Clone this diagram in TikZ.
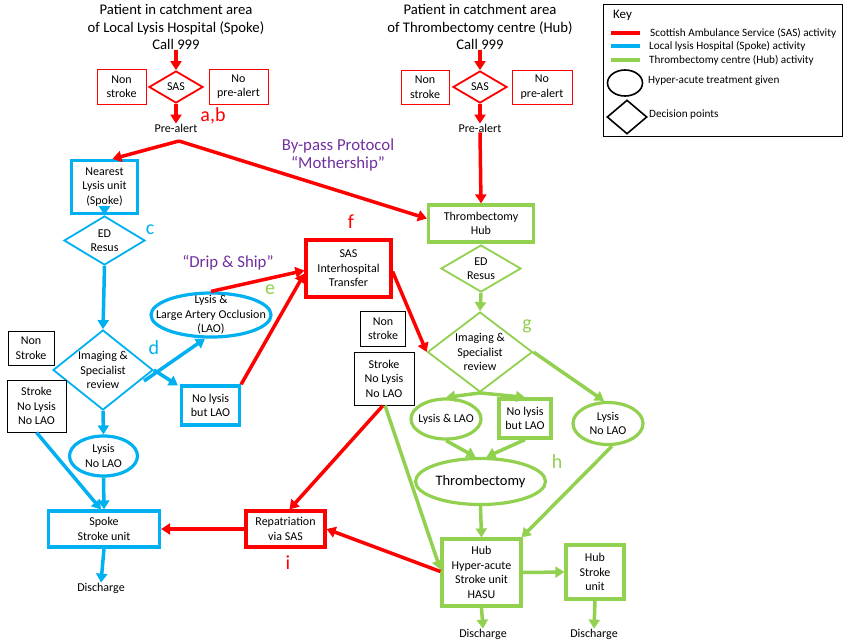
\documentclass[tikz,border=0pt]{standalone}
\usepackage{fontspec}
\setmainfont{Carlito}
\usetikzlibrary{arrows.meta,shapes.geometric}
\definecolor{sasred}{HTML}{FF0000}
\definecolor{spokeblue}{HTML}{00B0F0}
\definecolor{hubgreen}{HTML}{92D050}
\definecolor{purp}{HTML}{7030A0}
\begin{document}
\begin{tikzpicture}[x=1pt,y=-1pt,
  txt/.style={font=\fontsize{12}{14.5}\selectfont, align=center, inner sep=0},
  ttl/.style={font=\fontsize{14.7}{17.5}\selectfont, align=center, inner sep=0},
  lbl/.style={font=\fontsize{20}{20}\selectfont, inner sep=0},
  purplbl/.style={font=\fontsize{16.8}{18}\selectfont, align=center, inner sep=0, text=purp},
  keytxt/.style={font=\fontsize{11.2}{12}\selectfont, anchor=west, inner sep=0},
  thkbox/.style={draw, rectangle, line width=3.2pt, inner sep=0},
  thnbox/.style={draw, rectangle, line width=1pt, inner sep=0},
  dmd/.style={draw, diamond, line width=1.8pt, inner sep=0},
  ell/.style={draw, ellipse, line width=3.2pt, inner sep=0},
  arr/.style={line width=3.5pt, -{Triangle[length=9pt,width=11pt]}},
  ln/.style={line width=3.5pt}
]
\useasboundingbox (0,0) rectangle (850,643);

% ---------- Titles ----------
\node[ttl] (title1) at (176,27) {Patient in catchment area\\of Local Lysis Hospital (Spoke)\\Call 999};
\node[ttl] (title2) at (480,27) {Patient in catchment area\\of Thrombectomy centre (Hub)\\Call 999};

% ---------- SAS left ----------
\node[dmd, sasred, minimum width=54pt, minimum height=32pt] (sasL) at (176,87) {};
\node[txt] (sasLt) at (sasL) {SAS};
\node[thnbox, sasred, minimum width=49pt, minimum height=35pt] (nsL) at (121.5,86.5) {};
\node[txt] (nsLt) at (nsL) {Non\\stroke};
\node[thnbox, sasred, minimum width=59pt, minimum height=35pt] (npL) at (238.5,86.5) {};
\node[txt] (npLt) at (npL) {No\\pre-alert};
\node[txt] (paL) at (176,128) {Pre-alert};
\node[lbl, text=sasred] (lab) at (213,116) {a,b};
\coordinate (apexL) at (179,141);

% ---------- SAS right ----------
\node[dmd, sasred, minimum width=54pt, minimum height=32pt] (sasR) at (480,87) {};
\node[txt] (sasRt) at (sasR) {SAS};
\node[thnbox, sasred, minimum width=48pt, minimum height=34pt] (nsR) at (425,87) {};
\node[txt] (nsRt) at (nsR) {Non\\stroke};
\node[thnbox, sasred, minimum width=60pt, minimum height=34pt] (npR) at (542,87) {};
\node[txt] (npRt) at (npR) {No\\pre-alert};
\node[txt] (paR) at (480,128) {Pre-alert};

\node[purplbl] (bypass) at (338,155) {By-pass Protocol\\“Mothership”};

% ---------- Spoke side ----------
\node[thkbox, spokeblue, minimum width=66pt, minimum height=53pt] (nearest) at (104.5,187) {};
\node[txt] (nearestt) at (nearest) {Nearest\\Lysis unit\\(Spoke)};
\node[dmd, spokeblue, minimum width=81pt, minimum height=49pt] (edL) at (104.5,240.5) {};
\node[txt] (edLt) at (edL) {ED\\Resus};
\node[lbl, text=spokeblue] (labc) at (150,230) {c};
\node[dmd, spokeblue, minimum width=100pt, minimum height=80pt] (imgL) at (103,370) {};
\node[txt] (imgLt) at (imgL) {Imaging \&\\Specialist\\review};
\node[lbl, text=spokeblue] (labd) at (154,348) {d};
\node[thnbox, black, minimum width=46pt, minimum height=34pt] (nsBL) at (31,348) {};
\node[txt] (nsBLt) at (nsBL) {Non\\Stroke};
\node[thnbox, black, minimum width=59pt, minimum height=52pt] (snlL) at (36.5,406) {};
\node[txt] (snlLt) at (snlL) {Stroke\\No Lysis\\No LAO};
\node[ell, spokeblue, minimum width=120pt, minimum height=44pt] (lysLAO) at (211,315) {};
\node[txt] (lysLAOt) at (lysLAO) {Lysis \&\\Large Artery Occlusion\\(LAO)};
\node[lbl, text=hubgreen] (labe) at (270,290) {e};
\node[purplbl] (drip) at (228,263) {“Drip \& Ship”};
\node[thkbox, spokeblue, minimum width=58pt, minimum height=39pt] (nolysL) at (210.5,405.5) {};
\node[txt] (nolysLt) at (nolysL) {No lysis\\but LAO};
\node[ell, spokeblue, minimum width=68pt, minimum height=40pt] (lysNoL) at (103.5,456) {};
\node[txt] (lysNoLt) at (lysNoL) {Lysis\\No LAO};
\node[thkbox, spokeblue, minimum width=111pt, minimum height=36pt] (spokeSU) at (104,529) {};
\node[txt] (spokeSUt) at (spokeSU) {Spoke\\Stroke unit};
\node[txt] (dischL) at (101,588) {Discharge};

% ---------- SAS middle ----------
\node[thkbox, sasred, minimum width=79pt, minimum height=36pt] (repat) at (285.5,529) {};
\node[txt] (repatt) at (repat) {Repatriation\\via SAS};
\node[lbl, text=sasred] (labi) at (288,563) {i};
\node[thkbox, sasred, minimum width=85pt, minimum height=57pt] (sasIT) at (348.5,268.5) {};
\node[txt] (sasITt) at (sasIT) {SAS\\Interhospital\\Transfer};
\node[lbl, text=sasred] (labf) at (351,222) {f};

% ---------- Hub side ----------
\node[thkbox, hubgreen, minimum width=105pt, minimum height=37pt] (hub) at (481,223.5) {};
\node[txt] (hubt) at (hub) {Thrombectomy\\Hub};
\node[dmd, hubgreen, minimum width=80pt, minimum height=47pt] (edR) at (481,268.5) {};
\node[txt] (edRt) at (edR) {ED\\Resus};
\node[dmd, hubgreen, minimum width=105pt, minimum height=80pt] (imgR) at (480,352) {};
\node[txt] (imgRt) at (imgR) {Imaging \&\\Specialist\\review};
\node[lbl, text=hubgreen] (labg) at (527,326) {g};
\node[thnbox, black, minimum width=45pt, minimum height=35pt] (nsR2) at (383,328.5) {};
\node[txt] (nsR2t) at (nsR2) {Non\\stroke};
\node[thnbox, black, minimum width=60pt, minimum height=53pt] (snlR) at (384,378.5) {};
\node[txt] (snlRt) at (snlR) {Stroke\\No Lysis\\No LAO};
\node[ell, hubgreen, minimum width=70pt, minimum height=40pt] (lysLAOR) at (446,419) {};
\node[txt] (lysLAORt) at (lysLAOR) {Lysis \& LAO};
\node[thkbox, hubgreen, minimum width=52pt, minimum height=39pt] (nolysR) at (525,418.5) {};
\node[txt] (nolysRt) at (nolysR) {No lysis\\but LAO};
\node[ell, hubgreen, minimum width=70pt, minimum height=42pt] (lysNoLR) at (608,423.5) {};
\node[txt] (lysNoLRt) at (lysNoLR) {Lysis\\No LAO};
\node[ell, hubgreen, minimum width=130pt, minimum height=46pt] (thromb) at (480.5,481.5) {};
\node[txt, font=\fontsize{14.5}{16}\selectfont] (thrombt) at (thromb) {Thrombectomy};
\node[lbl, text=hubgreen] (labh) at (557,462) {h};
\node[thkbox, hubgreen, minimum width=79pt, minimum height=67pt] (hasu) at (481.5,572.5) {};
\node[txt] (hasut) at (hasu) {Hub\\Hyper-acute\\Stroke unit\\HASU};
\node[txt] (dischM) at (483,634) {Discharge};
\node[thkbox, hubgreen, minimum width=58pt, minimum height=54pt] (hubSU) at (595,572) {};
\node[txt] (hubSUt) at (hubSU) {Hub\\Stroke\\unit};
\node[txt] (dischR) at (594,634) {Discharge};

% ---------- Red connectors ----------
\draw[arr, sasred] (title1.south) -- (sasL.north);
\draw[arr, sasred] (sasL.south) -- (paL.north);
\draw[arr, sasred] (title2.south) -- (sasR.north);
\draw[arr, sasred] (sasR.south) -- (paR.north);
\draw[arr, sasred] (apexL) -- ([xshift=8pt]nearest.north);
\draw[arr, sasred] (apexL) -- ([yshift=5pt]hub.west);
\draw[arr, sasred] (paR.south) -- (hub.north);
\draw[arr, sasred] (lysLAO.north) -- ([yshift=-2pt]sasIT.west);
\draw[arr, sasred] (nolysL.north east) -- ([yshift=-5pt]sasIT.west);
\draw[arr, sasred] ([yshift=-3pt]sasIT.east) -- (imgR.west);
\draw[arr, sasred] ([xshift=-1pt]snlR.south) -- ([xshift=4pt]repat.north);
\draw[arr, sasred] ([yshift=1pt]hasu.west) -- (repat.east);
\draw[arr, sasred] (repat.west) -- (spokeSU.east);

% ---------- Blue connectors ----------
\coordinate (dA) at (144,381);
\draw[arr, spokeblue] (nearest.south) -- (edL.north);
\draw[arr, spokeblue] (edL.south) -- (imgL.north);
\draw[arr, spokeblue] (dA) -- ([xshift=-6pt]lysLAO.south);
\draw[arr, spokeblue] (imgL.east) -- ([xshift=-2pt,yshift=-1pt]nolysL.north west);
\draw[arr, spokeblue] (imgL.south) -- (lysNoL.north);
\draw[arr, spokeblue] (lysNoL.south) -- (spokeSU.north);
\draw[arr, spokeblue] (snlL.south) -- ([xshift=-3pt]spokeSU.north);
\draw[arr, spokeblue] (spokeSU.south) -- (dischL.north);

% ---------- Green connectors ----------
\draw[arr, hubgreen] (edR.south) -- (imgR.north);
\draw[arr, hubgreen] (imgR.south) -- (lysLAOR.north);
\draw[arr, hubgreen] (imgR.south) -- (nolysR.north);
\draw[arr, hubgreen] (imgR.east) -- ([xshift=-4pt]lysNoLR.north);
\draw[arr, hubgreen] (lysLAOR.south) -- ([xshift=-5pt]thromb.north);
\draw[arr, hubgreen] (nolysR.south) -- ([xshift=6pt]thromb.north);
\draw[arr, hubgreen] (thromb.south) -- (hasu.north);
\draw[arr, hubgreen] ([xshift=4pt]lysNoLR.south) -- ([xshift=-1pt]hasu.north east);
\draw[arr, hubgreen] ([xshift=1pt]snlR.south) -- ([yshift=3pt]hasu.west);
\draw[arr, hubgreen] (hasu.south) -- (dischM.north);
\draw[arr, hubgreen] (hasu.east) -- (hubSU.west);
\draw[arr, hubgreen] (hubSU.south) -- (dischR.north);

% ---------- Key ----------
\node[draw, line width=1pt, rectangle, minimum width=239pt, minimum height=132pt, inner sep=0] (keybox) at (722.5,70) {};
\node[keytxt, font=\fontsize{13}{14}\selectfont] (keyt) at (613,15) {Key};
\coordinate (k1a) at (611,33); \coordinate (k1b) at (640,33);
\coordinate (k2a) at (611,46); \coordinate (k2b) at (640,46);
\coordinate (k3a) at (611,60); \coordinate (k3b) at (640,60);
\draw[ln, sasred] (k1a) -- (k1b);
\draw[ln, spokeblue] (k2a) -- (k2b);
\draw[ln, hubgreen] (k3a) -- (k3b);
\node[keytxt] (kt1) at (650,33) {Scottish Ambulance Service (SAS) activity};
\node[keytxt] (kt2) at (649,46) {Local lysis Hospital (Spoke) activity};
\node[keytxt] (kt3) at (649,60) {Thrombectomy centre (Hub) activity};
\node[draw, ellipse, line width=1.6pt, minimum width=35pt, minimum height=26pt, inner sep=0] (kell) at (625,83) {};
\node[keytxt] (kt4) at (648,81) {Hyper-acute treatment given};
\node[draw, diamond, line width=1.6pt, minimum width=40pt, minimum height=34pt, inner sep=0] (kdmd) at (627,117) {};
\node[keytxt] (kt5) at (649,115) {Decision points};
\end{tikzpicture}
\end{document}
